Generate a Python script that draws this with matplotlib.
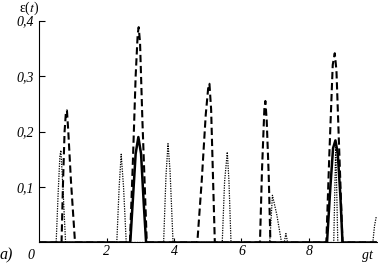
import matplotlib.pyplot as plt

plt.rcParams['font.family'] = ['Liberation Serif', 'DejaVu Serif']
plt.rcParams['mathtext.fontset'] = 'stix'

# dashed curve
dash_x = [0.0, 0.66, 0.70, 0.75, 0.79, 0.82, 0.86, 0.94, 1.06,
          2.69, 2.78, 2.86, 2.92, 2.95, 2.99, 3.06, 3.19,
          4.69, 4.82, 4.94, 5.02, 5.05, 5.10, 5.15, 5.21,
          6.55, 6.61, 6.68, 6.71, 6.75, 6.81, 6.86,
          8.52, 8.61, 8.71, 8.77, 8.82, 8.90, 9.00, 10.0]
dash_y = [0.0, 0.0, 0.10, 0.20, 0.235, 0.238, 0.20, 0.11, 0.0,
          0.0, 0.15, 0.30, 0.375, 0.388, 0.36, 0.22, 0.0,
          0.0, 0.11, 0.23, 0.283, 0.286, 0.24, 0.13, 0.0,
          0.0, 0.13, 0.24, 0.255, 0.22, 0.12, 0.0,
          0.0, 0.16, 0.32, 0.341, 0.31, 0.17, 0.0, 0.0]

# solid curve
solid_x = [0.0, 2.70, 2.78, 2.86, 2.94, 3.02, 3.10, 3.17,
           8.54, 8.64, 8.72, 8.79, 8.86, 8.94, 9.00, 10.0]
solid_y = [0.0, 0.0, 0.08, 0.16, 0.19, 0.16, 0.07, 0.0,
           0.0, 0.10, 0.17, 0.184, 0.16, 0.08, 0.0, 0.0]

# dotted curve
dot_x = [0.0, 0.50, 0.56, 0.61, 0.64, 0.70, 0.78,
         2.30, 2.37, 2.43, 2.50, 2.58,
         3.69, 3.76, 3.82, 3.88, 3.97,
         5.43, 5.50, 5.58, 5.63, 5.69,
         6.84, 6.92, 7.05, 7.19, 7.27, 7.32, 7.37,
         8.74, 8.80, 8.86,
         9.90, 9.95, 10.0]
dot_y = [0.0, 0.0, 0.09, 0.155, 0.166, 0.10, 0.0,
         0.0, 0.10, 0.159, 0.10, 0.0,
         0.0, 0.12, 0.178, 0.13, 0.0,
         0.0, 0.11, 0.163, 0.11, 0.0,
         0.0, 0.085, 0.05, 0.0, 0.0, 0.016, 0.0,
         0.0, 0.18, 0.0,
         0.0, 0.03, 0.046]

yticks = [0.1, 0.2, 0.3, 0.4]
ytick_labels = ['0,1', '0,2', '0,3', '0,4']
xticks = [2, 4, 6, 8]
xtick_labels = ['2', '4', '6', '8']

fig = plt.figure(figsize=(3.78, 2.63), dpi=100)
ax = fig.add_axes([0.104, 0.078, 0.893, 0.844])

ax.plot(dash_x, dash_y, color='black', lw=1.5, ls=(0, (3.5, 1.8)))
ax.plot(solid_x, solid_y, color='black', lw=1.8)
ax.plot(dot_x, dot_y, color='black', lw=0.9, ls=(0, (1, 1)))

ax.set_xlim(0, 10.02)
ax.set_ylim(0, 0.4)
ax.spines['top'].set_visible(False)
ax.spines['right'].set_visible(False)

fs = 10
ax.set_yticks(yticks)
ax.set_yticklabels(ytick_labels, fontsize=fs, style='italic')
ax.set_xticks(xticks)
ax.set_xticklabels(xtick_labels, fontsize=fs, style='italic')
ax.tick_params(axis='y', direction='in', length=4, pad=4)
ax.tick_params(axis='x', direction='in', length=3, pad=2)

ax.text(-0.25, -0.012, '0', fontsize=fs, style='italic', ha='center', va='top')
ax.text(9.75, -0.012, 'gt', fontsize=fs, style='italic', ha='center', va='top')
ax.text(-0.98, -0.008, 'a)', fontsize=11.5, style='italic', ha='center', va='top')
ax.text(-0.3, 0.422, 'ε($t$)', fontsize=fs, ha='center', va='center')

fig.savefig('out.png', dpi=100)
